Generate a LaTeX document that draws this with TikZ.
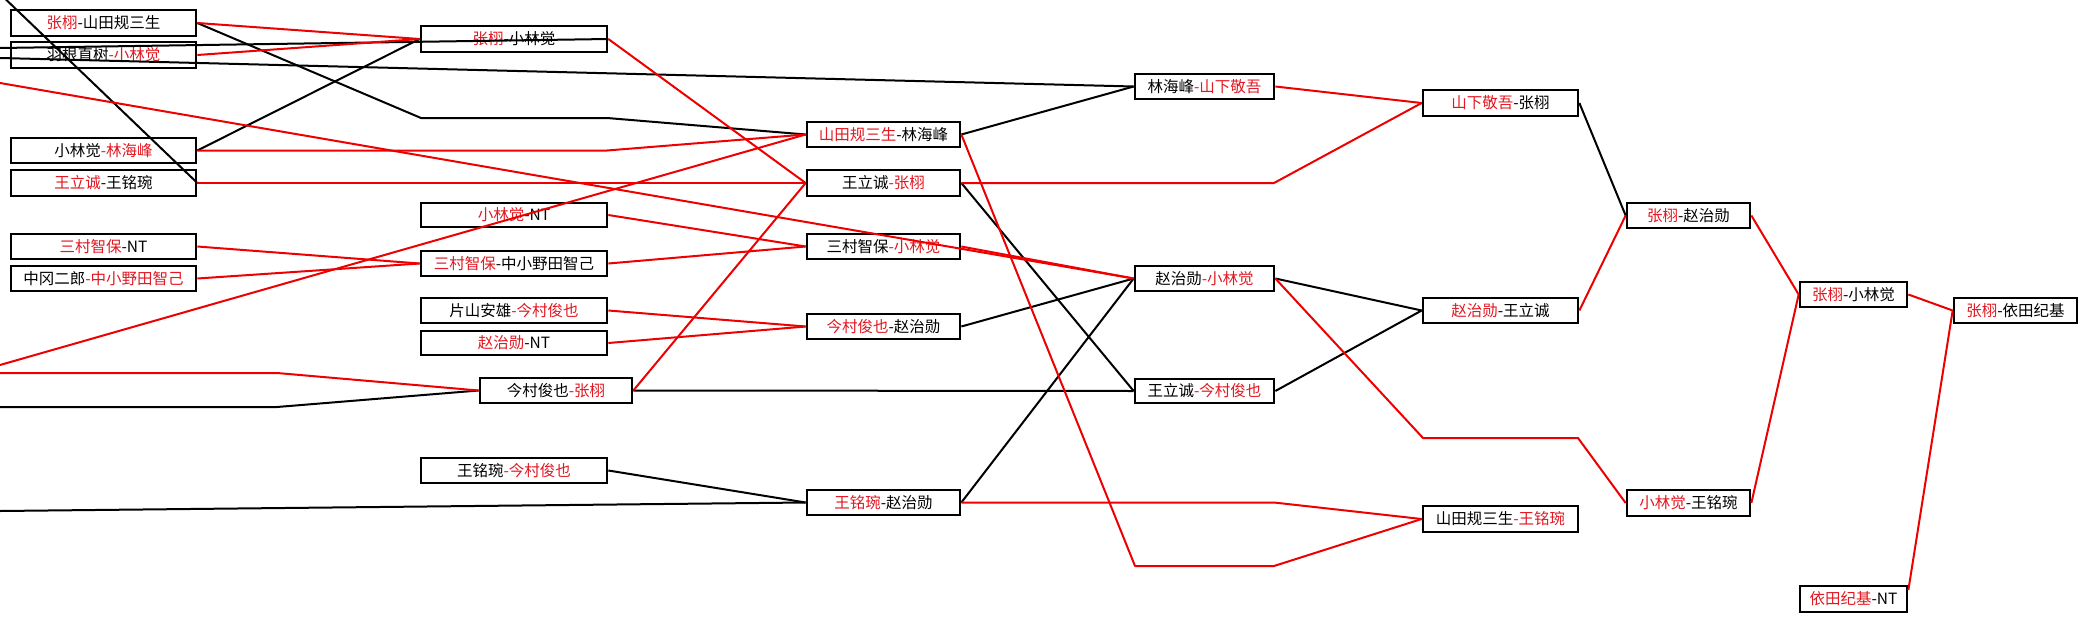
\documentclass[tikz,border=0pt]{standalone}
\usepackage{fontspec}
\setmainfont{Noto Sans CJK SC}
\definecolor{tred}{RGB}{226,24,34}
\definecolor{lred}{RGB}{238,0,0}
\tikzset{
 bx/.style={draw=black, line width=2.7pt, fill=white, inner sep=0pt, font=\fontsize{15.5}{18}\selectfont},
 bl/.style={draw=black, line width=2pt, line join=round},
 rl/.style={draw=lred, line width=2pt, line join=round},
}
\newcommand\rd[1]{\textcolor{tred}{#1}}
\newcommand\bxn[6]{\node[bx,minimum width={#4-#2},minimum height={#5-#3}] (#1) at ({(#2+#4)/2},{(#3+#5)/2}) {#6};}
\begin{document}
\begin{tikzpicture}[x=1pt,y=-1pt]
\clip (0,0) rectangle (2087,621);
\fill[white] (0,0) rectangle (2087,621);
% column 1
\bxn{c1a}{11}{10}{196}{36}{\rd{张栩}-山田规三生}
\bxn{c1b}{11}{42}{196}{68}{羽根直树\rd{-小林觉}}
\bxn{c1c}{11}{138}{196}{163}{小林觉\rd{-林海峰}}
\bxn{c1d}{11}{170}{196}{196}{\rd{王立诚}-王铭琬}
\bxn{c1e}{11}{234}{196}{259}{\rd{三村智保}-NT}
\bxn{c1f}{11}{266}{196}{291}{中冈二郎\rd{-中小野田智己}}
% column 2
\bxn{c2a}{421}{26}{607}{52}{\rd{张栩}-小林觉}
\bxn{c2b}{421}{203}{607}{227}{\rd{小林觉}-NT}
\bxn{c2c}{421}{251}{607}{276}{\rd{三村智保}-中小野田智己}
\bxn{c2d}{421}{298}{607}{323}{片山安雄\rd{-今村俊也}}
\bxn{c2e}{421}{331}{607}{355}{\rd{赵治勋}-NT}
\bxn{c2f}{480}{378}{632}{403}{今村俊也\rd{-张栩}}
\bxn{c2g}{421}{458}{607}{483}{王铭琬\rd{-今村俊也}}
% column 3
\bxn{c3a}{807}{122}{960}{147}{\rd{山田规三生}-林海峰}
\bxn{c3b}{807}{170}{960}{196}{王立诚\rd{-张栩}}
\bxn{c3c}{807}{234}{960}{259}{三村智保\rd{-小林觉}}
\bxn{c3d}{807}{314}{960}{339}{\rd{今村俊也}-赵治勋}
\bxn{c3e}{807}{490}{960}{515}{\rd{王铭琬}-赵治勋}
% column 4
\bxn{c4a}{1135}{74}{1274}{99}{林海峰\rd{-山下敬吾}}
\bxn{c4b}{1135}{266}{1274}{291}{赵治勋\rd{-小林觉}}
\bxn{c4c}{1135}{379}{1274}{403}{王立诚\rd{-今村俊也}}
% column 5
\bxn{c5a}{1423}{90}{1578}{116}{\rd{山下敬吾}-张栩}
\bxn{c5b}{1423}{298}{1578}{323}{\rd{赵治勋}-王立诚}
\bxn{c5c}{1423}{506}{1578}{532}{山田规三生\rd{-王铭琬}}
% column 6
\bxn{c6a}{1627}{203}{1750}{228}{\rd{张栩}-赵治勋}
\bxn{c6b}{1627}{490}{1750}{516}{\rd{小林觉}-王铭琬}
% column 7
\bxn{c7a}{1800}{282}{1907}{307}{\rd{张栩}-小林觉}
\bxn{c7b}{1800}{586}{1907}{612}{\rd{依田纪基}-NT}
% column 8
\bxn{c8}{1954}{298}{2077}{323}{\rd{张栩}-依田纪基}
% free ends
\coordinate (e1) at (-4,-10);
\coordinate (e2) at (0,48);
\coordinate (e3) at (0,58);
\coordinate (e4) at (0,407);
\coordinate (e5) at (0,511);
\coordinate (e6) at (0,83);
\coordinate (e7) at (0,365);
\coordinate (e8) at (0,373);
% black connectors
\draw[bl] (c1d.east) -- (e1);
\draw[bl] (e2) -- (c2a.east);
\draw[bl] (e3) -- (c4a.west);
\draw[bl] (c1a.east) -- (421,118) -- (607,118) -- (c3a.west);
\draw[bl] (c1c.east) -- (c2a.west);
\draw[bl] (e4) -- (277,407) -- (c2f.west);
\draw[bl] (c2f.east) -- (c4c.west);
\draw[bl] (c2g.east) -- (c3e.west);
\draw[bl] (e5) -- (c3e.west);
\draw[bl] (c3a.east) -- (c4a.west);
\draw[bl] (c3b.east) -- (c4c.west);
\draw[bl] (c3d.east) -- (c4b.west);
\draw[bl] (c3e.east) -- (c4b.west);
\draw[bl] (c4b.east) -- (c5b.west);
\draw[bl] (c4c.east) -- (c5b.west);
\draw[bl] (c5a.east) -- (c6a.west);
% red connectors
\draw[rl] (c1a.east) -- (c2a.west);
\draw[rl] (c1b.east) -- (c2a.west);
\draw[rl] (c1c.east) -- (607,150.5) -- (c3a.west);
\draw[rl] (c1d.east) -- (c3b.west);
\draw[rl] (e6) -- (c4b.west);
\draw[rl] (e7) -- (c3a.west);
\draw[rl] (c2a.east) -- (c3b.west);
\draw[rl] (c1e.east) -- (c2c.west);
\draw[rl] (c1f.east) -- (c2c.west);
\draw[rl] (e8) -- (277,373) -- (c2f.west);
\draw[rl] (c2f.east) -- (c3b.west);
\draw[rl] (c2b.east) -- (c3c.west);
\draw[rl] (c2c.east) -- (c3c.west);
\draw[rl] (c2d.east) -- (c3d.west);
\draw[rl] (c2e.east) -- (c3d.west);
\draw[rl] (c3c.east) -- (c4b.west);
\draw[rl] (c3a.east) -- (1135,566) -- (1274,566) -- (c5c.west);
\draw[rl] (c3e.east) -- (1274,502.5) -- (c5c.west);
\draw[rl] (c4a.east) -- (c5a.west);
\draw[rl] (c3b.east) -- (1274,183) -- (c5a.west);
\draw[rl] (c4b.east) -- (1423,438) -- (1578,438) -- (c6b.west);
\draw[rl] (c5b.east) -- (c6a.west);
\draw[rl] (c6a.east) -- (c7a.west);
\draw[rl] (c6b.east) -- (c7a.west);
\draw[rl] (c7a.east) -- (c8.west);
\draw[rl] ([yshift=9pt]c7b.east) -- (c8.west);
\end{tikzpicture}
\end{document}
